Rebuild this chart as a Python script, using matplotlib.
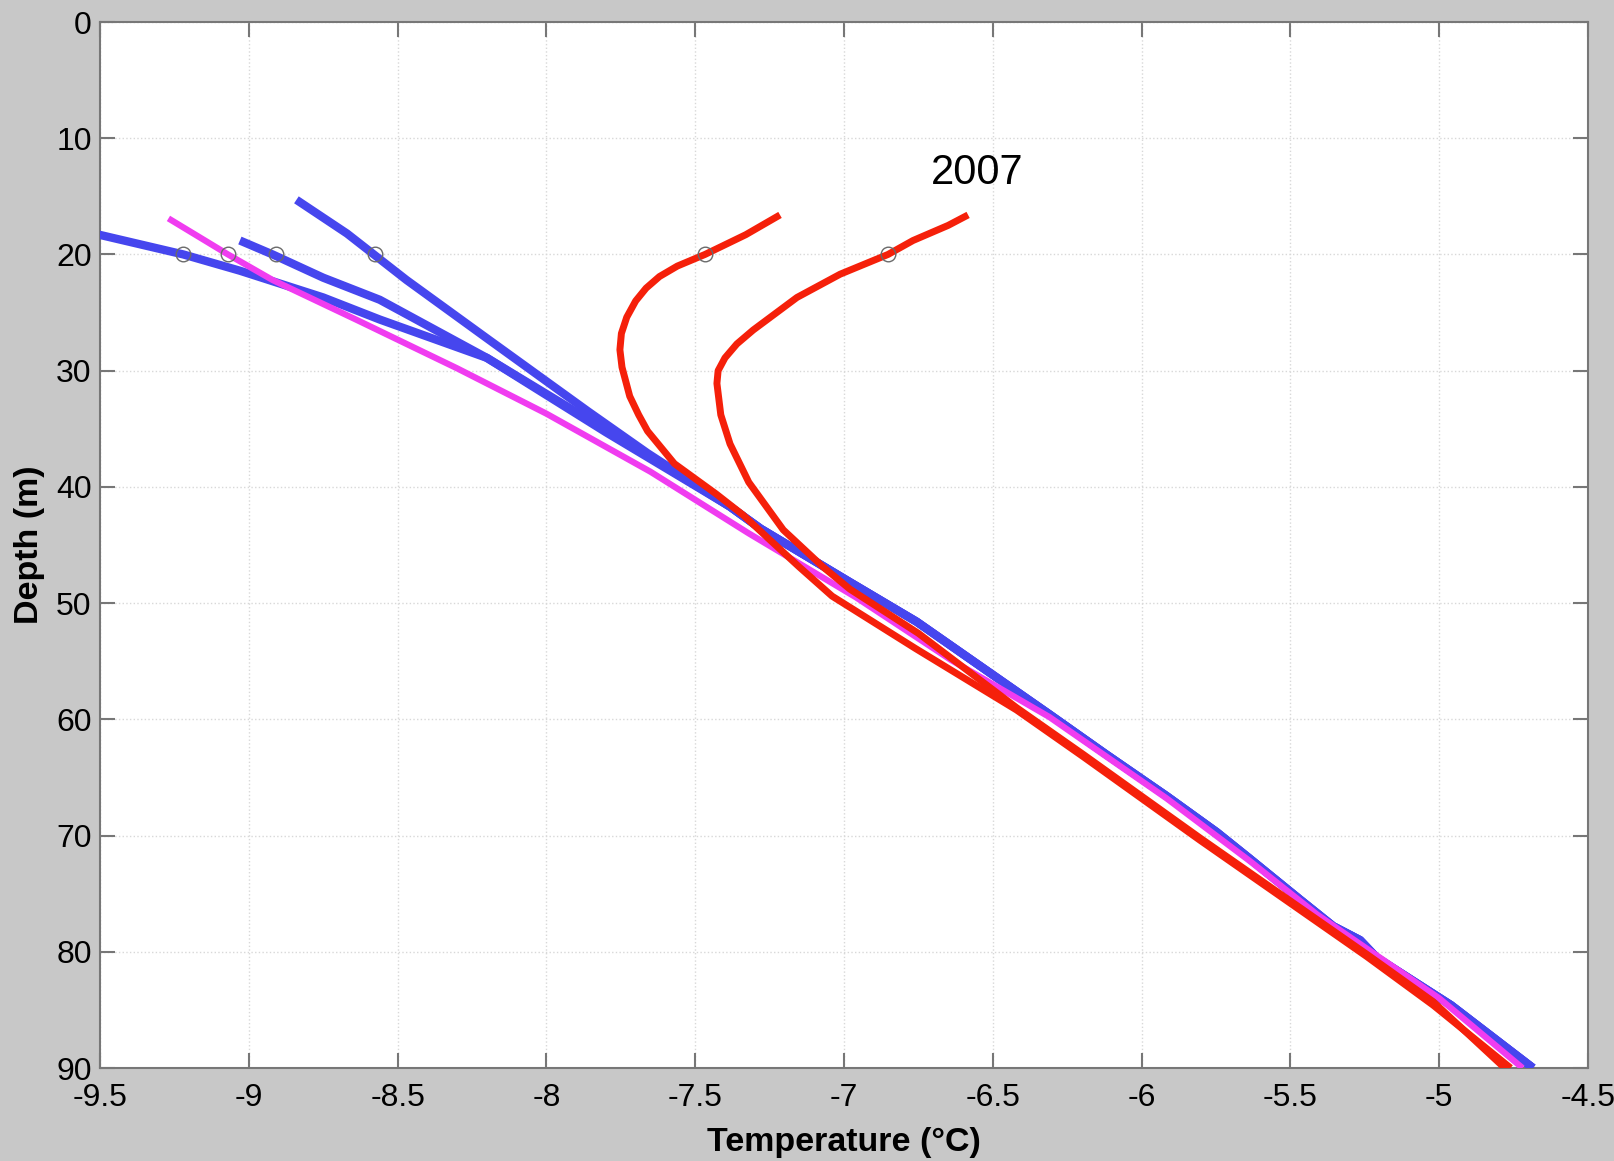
import matplotlib
matplotlib.use("Agg")
import matplotlib.pyplot as plt

plt.rcParams['font.family'] = ['Liberation Sans', 'DejaVu Sans']
plt.rcParams['axes.unicode_minus'] = False

# ---- data (temperature °C, depth m) ----
blue_a_T = [-8.84, -8.67, -8.58, -8.47, -8.19, -7.86, -7.66, -7.383, -7.28, -6.98, -6.756, -6.532, -6.308, -6.12, -5.916, -5.748, -5.636, -5.468, -5.356, -5.266, -5.21, -4.96, -4.685]
blue_a_d = [15.3, 18.2, 20.0, 22.2, 27.4, 33.5, 37.1, 41.7, 43.6, 48.2, 51.6, 55.6, 59.6, 63.0, 66.6, 69.7, 72.0, 75.5, 77.8, 79.0, 80.5, 84.6, 90.0]

blue_b_T = [-9.03, -8.92, -8.75, -8.56, -8.20, -7.80, -7.383, -7.28, -6.98, -6.756, -6.532, -6.308, -6.12, -5.916, -5.748, -5.636, -5.468, -5.356, -5.266, -5.21, -4.96, -4.685]
blue_b_d = [18.8, 20.0, 22.0, 23.9, 28.9, 35.1, 41.7, 43.6, 48.2, 51.6, 55.6, 59.6, 63.0, 66.6, 69.7, 72.0, 75.5, 77.8, 79.0, 80.5, 84.6, 90.0]

blue_c_T = [-9.62, -9.22, -9.03, -8.75, -8.56, -8.20, -7.80, -7.383, -7.28, -6.98, -6.756, -6.532, -6.308, -6.12, -5.916, -5.748, -5.636, -5.468, -5.356, -5.266, -5.21, -4.96, -4.685]
blue_c_d = [17.6, 20.0, 21.4, 23.7, 25.6, 28.9, 35.3, 41.7, 43.6, 48.2, 51.6, 55.6, 59.6, 63.0, 66.6, 69.7, 72.0, 75.5, 77.8, 79.0, 80.5, 84.6, 90.0]

mag_T = [-9.27, -9.07, -8.92, -8.64, -8.30, -8.00, -7.65, -7.32, -6.96, -6.64, -6.31, -5.916, -5.636, -5.41, -5.00, -4.72]
mag_d = [16.9, 20.0, 22.2, 25.6, 29.8, 33.7, 38.7, 44.0, 49.5, 54.9, 59.8, 66.8, 72.2, 76.8, 84.0, 90.0]

red_a_T = [-7.215, -7.33, -7.467, -7.56, -7.62, -7.665, -7.70, -7.73, -7.748, -7.753, -7.746, -7.72, -7.69, -7.66, -7.57, -7.43, -7.34, -7.26, -7.15, -7.04, -6.76, -6.42, -6.197, -5.804, -5.468, -5.244, -5.02, -4.76]
red_a_d = [16.6, 18.3, 20.0, 21.0, 21.9, 22.9, 24.0, 25.4, 26.8, 28.2, 29.7, 32.2, 33.8, 35.2, 38.0, 40.6, 42.4, 44.3, 46.9, 49.4, 53.9, 59.2, 63.2, 70.4, 76.4, 80.4, 84.6, 90.0]

red_b_T = [-6.583, -6.65, -6.768, -6.852, -7.013, -7.158, -7.305, -7.36, -7.40, -7.423, -7.427, -7.414, -7.383, -7.32, -7.204, -7.07, -6.98, -6.75, -6.42, -6.197, -5.804, -5.468, -5.244, -5.02, -4.78]
red_b_d = [16.6, 17.5, 18.8, 20.0, 21.7, 23.7, 26.5, 27.7, 28.9, 30.0, 31.1, 33.8, 36.3, 39.6, 43.7, 46.9, 48.8, 52.6, 59.0, 63.0, 70.2, 76.2, 80.2, 84.3, 90.0]

circle_T = [-9.22, -9.07, -8.91, -8.575, -7.467, -6.852]
circle_d = [20, 20, 20, 20, 20, 20]

x_ticks = [-9.5, -9, -8.5, -8, -7.5, -7, -6.5, -6, -5.5, -5, -4.5]
x_labels = ['-9.5', '-9', '-8.5', '-8', '-7.5', '-7', '-6.5', '-6', '-5.5', '-5', '-4.5']
y_ticks = [0, 10, 20, 30, 40, 50, 60, 70, 80, 90]

annot_text = '2007'

# ---- figure ----
fig = plt.figure(figsize=(16.15, 11.61), dpi=100, facecolor='#c8c8c8')
ax = fig.add_axes([100/1615, 1 - 1068/1161, 1488/1615, 1046/1161])
ax.set_facecolor('white')

blue = '#4646ee'
mag = '#f03cf0'
red = '#f5200a'

line_kw = dict(solid_capstyle='butt', solid_joinstyle='round')
for T, d in [(blue_a_T, blue_a_d), (blue_b_T, blue_b_d), (blue_c_T, blue_c_d)]:
    ax.plot(T, d, color=blue, lw=6.0, zorder=3, **line_kw)
ax.plot(mag_T, mag_d, color=mag, lw=4.5, zorder=4, **line_kw)
for T, d in [(red_a_T, red_a_d), (red_b_T, red_b_d)]:
    ax.plot(T, d, color=red, lw=5.0, zorder=5, **line_kw)

ax.plot(circle_T, circle_d, linestyle='none', marker='o', ms=10.5,
        mfc='none', mec='#6a6a6a', mew=1.0, zorder=6)

ax.text(-6.553, 13.0, annot_text, fontsize=30, ha='center', va='center', color='black')

ax.set_xlim(-9.5, -4.5)
ax.set_ylim(90, 0)
ax.set_xticks(x_ticks)
ax.set_xticklabels(x_labels)
ax.set_yticks(y_ticks)

ax.grid(True, color='#d8d8d8', linestyle=':', linewidth=1.0)
ax.set_axisbelow(True)
for s in ax.spines.values():
    s.set_color('#777777')
    s.set_linewidth(1.5)
ax.tick_params(axis='both', direction='in', length=11, width=1.5, color='#777777',
               top=True, right=True, labelsize=23, labelcolor='black')
ax.tick_params(axis='x', pad=11)
ax.tick_params(axis='y', pad=6)

ax.set_xlabel('Temperature (°C)', fontsize=24.5, fontweight='bold', labelpad=10)
ax.set_ylabel('Depth (m)', fontsize=24.5, fontweight='bold', labelpad=8)

fig.savefig('out.png', dpi=100, facecolor=fig.get_facecolor())
